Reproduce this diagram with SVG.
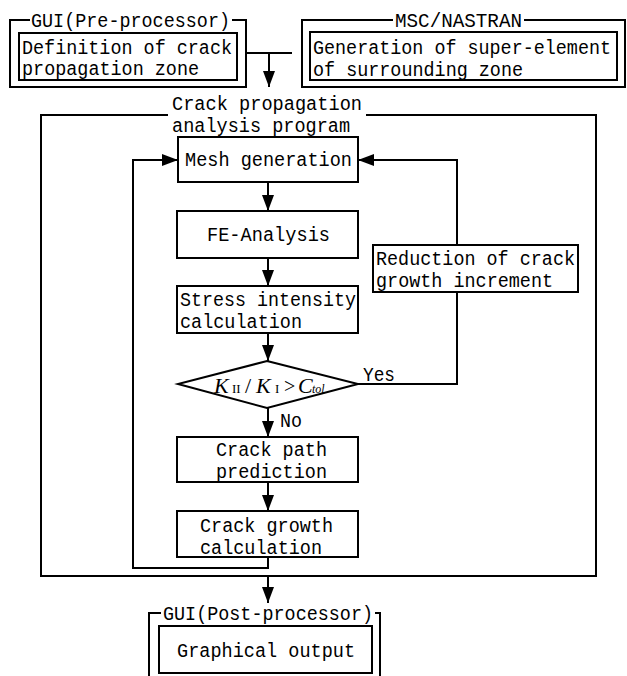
<svg xmlns="http://www.w3.org/2000/svg" width="627" height="676" viewBox="0 0 627 676">
<style>
.t{font-family:"Liberation Mono","DejaVu Sans Mono",monospace;font-size:20px;fill:#000}
.b{fill:#fff;stroke:#000;stroke-width:2}
.c{fill:none;stroke:#000;stroke-width:2}
.k{font-family:"Liberation Serif","Times New Roman",serif;fill:#000}
</style>
<defs>
<marker id="ah" markerUnits="userSpaceOnUse" markerWidth="16" markerHeight="12" viewBox="0 0 16 12" refX="16" refY="6" orient="auto"><path d="M0,0 L16,6 L0,12 z" fill="#000"/></marker>
</defs>
<rect width="627" height="676" fill="#fff"/>

<g id="gui-pre">
<path class="c" d="M30,20 H10 V87 H246 V20 H232"/>
<text class="t" x="31" y="27" textLength="199" lengthAdjust="spacingAndGlyphs">GUI(Pre-processor)</text>
<rect class="b" x="19" y="33" width="218" height="47"/>
<text class="t" x="22" y="54" textLength="210" lengthAdjust="spacingAndGlyphs">Definition of crack</text>
<text class="t" x="22" y="75" textLength="177" lengthAdjust="spacingAndGlyphs">propagation zone</text>
</g>

<g id="msc">
<path class="c" d="M393,20 H302 V87 H625 V20 H524"/>
<text class="t" x="395" y="27" textLength="127" lengthAdjust="spacingAndGlyphs">MSC/NASTRAN</text>
<rect class="b" x="310" y="32" width="307" height="48"/>
<text class="t" x="313" y="54" textLength="298" lengthAdjust="spacingAndGlyphs">Generation of super-element</text>
<text class="t" x="313" y="76" textLength="210" lengthAdjust="spacingAndGlyphs">of surrounding zone</text>
</g>

<g id="program">
<path class="c" d="M168,115 H41 V576 H596 V115 H366"/>
<text class="t" x="172" y="110" textLength="190" lengthAdjust="spacingAndGlyphs">Crack propagation</text>
<text class="t" x="172" y="132" textLength="178" lengthAdjust="spacingAndGlyphs">analysis program</text>
</g>

<g id="connectors">
<path class="c" d="M246,53 H292"/>
<path class="c" d="M269,53 V87" marker-end="url(#ah)"/>
<path class="c" d="M268,182 V211" marker-end="url(#ah)"/>
<path class="c" d="M268,258 V286" marker-end="url(#ah)"/>
<path class="c" d="M268,333 V361" marker-end="url(#ah)"/>
<path class="c" d="M268,408 V437" marker-end="url(#ah)"/>
<path class="c" d="M268,482 V511" marker-end="url(#ah)"/>
<path class="c" d="M268,557 V568 H133 V160 H178" marker-end="url(#ah)"/>
<path class="c" d="M358,384 H457 V160 H358" marker-end="url(#ah)"/>
<path class="c" d="M268,576 V603" marker-end="url(#ah)"/>
<text class="t" x="363" y="381" textLength="32" lengthAdjust="spacingAndGlyphs">Yes</text>
<text class="t" x="280" y="427" textLength="22" lengthAdjust="spacingAndGlyphs">No</text>
</g>

<g id="mesh">
<rect class="b" x="178" y="137" width="180" height="45"/>
<text class="t" x="185" y="166" textLength="167" lengthAdjust="spacingAndGlyphs">Mesh generation</text>
</g>

<g id="fe">
<rect class="b" x="177" y="211" width="181" height="47"/>
<text class="t" x="207" y="241" textLength="123" lengthAdjust="spacingAndGlyphs">FE-Analysis</text>
</g>

<g id="stress">
<rect class="b" x="177" y="286" width="181" height="47"/>
<text class="t" x="180" y="306" textLength="176" lengthAdjust="spacingAndGlyphs">Stress intensity</text>
<text class="t" x="180" y="328" textLength="122" lengthAdjust="spacingAndGlyphs">calculation</text>
</g>

<g id="reduction">
<rect class="b" x="373" y="245" width="205" height="47"/>
<text class="t" x="376" y="265" textLength="199" lengthAdjust="spacingAndGlyphs">Reduction of crack</text>
<text class="t" x="376" y="287" textLength="177" lengthAdjust="spacingAndGlyphs">growth increment</text>
</g>

<g id="decision">
<path class="b" d="M267,361 L358,384 L267,408 L178,384 Z"/>
<text class="k" y="393"><tspan x="214" font-size="22" font-style="italic">K</tspan><tspan x="232" font-size="13">II</tspan><tspan x="245" font-size="22">/</tspan><tspan x="256" font-size="22" font-style="italic">K</tspan><tspan x="275" font-size="13">I</tspan><tspan x="284" font-size="20">&gt;</tspan><tspan x="298" font-size="22" font-style="italic">C</tspan><tspan x="312" font-size="12" font-style="italic">tol</tspan></text>
</g>

<g id="path-pred">
<rect class="b" x="177" y="437" width="181" height="45"/>
<text class="t" x="216" y="456" textLength="111" lengthAdjust="spacingAndGlyphs">Crack path</text>
<text class="t" x="216" y="478" textLength="111" lengthAdjust="spacingAndGlyphs">prediction</text>
</g>

<g id="growth">
<rect class="b" x="177" y="511" width="181" height="46"/>
<text class="t" x="200" y="532" textLength="133" lengthAdjust="spacingAndGlyphs">Crack growth</text>
<text class="t" x="200" y="554" textLength="122" lengthAdjust="spacingAndGlyphs">calculation</text>
</g>

<g id="gui-post">
<path class="c" d="M149,677 V613 H161 M375,613 H380 V677"/>
<text class="t" x="163" y="620" textLength="210" lengthAdjust="spacingAndGlyphs">GUI(Post-processor)</text>
<rect class="b" x="159" y="626" width="213" height="47"/>
<text class="t" x="177" y="657" textLength="178" lengthAdjust="spacingAndGlyphs">Graphical output</text>
</g>
</svg>
